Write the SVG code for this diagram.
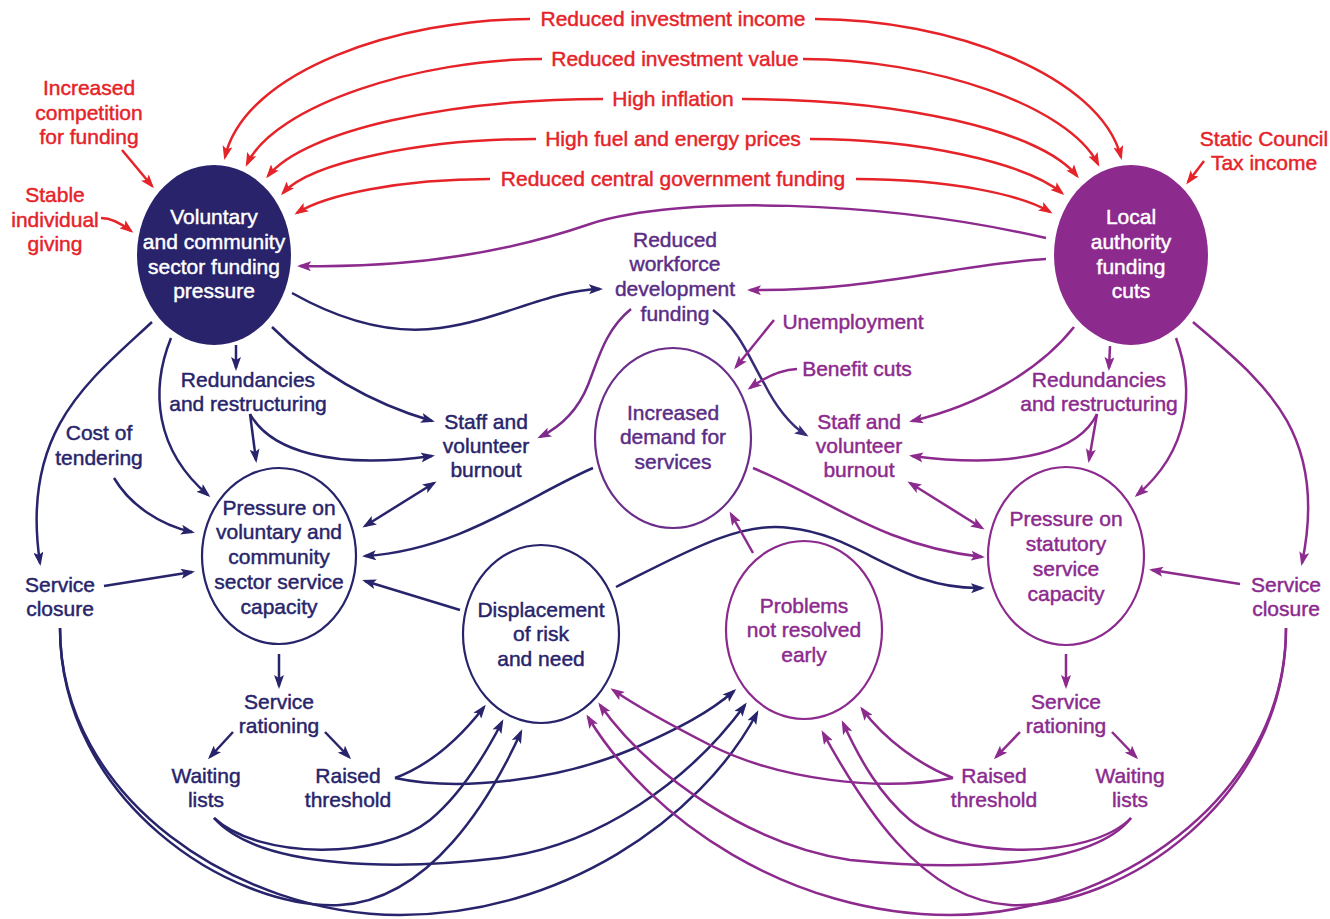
<svg xmlns="http://www.w3.org/2000/svg" width="1330" height="919" viewBox="0 0 1330 919">
<style>
text{font-family:"Liberation Sans",Arial,sans-serif;font-size:21px;text-anchor:middle;stroke-width:0.45px}
.r{fill:#e52329;stroke:#e52329}.n{fill:#28246b;stroke:#28246b}.p{fill:#8c2a8e;stroke:#8c2a8e}.m{fill:#5a2d86;stroke:#5a2d86}.w{fill:#fff;stroke:#fff}
.cr,.cn,.cp,.cm,.cd{fill:none;stroke-width:2.5}
.cr{stroke:#e52329;marker-end:url(#aR)}
.cn{stroke:#28246b;marker-end:url(#aN)}
.cp{stroke:#8c2a8e;marker-end:url(#aP)}
.cm{stroke:#7a2b8c;marker-end:url(#aM)}
.cd{stroke:#3b2a77;marker-end:url(#aD)}
.bn{marker-start:url(#aN)}.bp{marker-start:url(#aP)}
.on{fill:#fff;stroke:#28246b;stroke-width:2.2}
.op{fill:#fff;stroke:#8c2a8e;stroke-width:2.2}
.om{fill:#fff;stroke:#6a2d8a;stroke-width:2.2}
</style>
<defs>
<marker id="aR" viewBox="0 0 14 10" refX="11" refY="5" markerWidth="14" markerHeight="10" markerUnits="userSpaceOnUse" orient="auto-start-reverse"><path d="M0,0 L14,5 L0,10 L3,5 Z" fill="#e52329"/></marker>
<marker id="aN" viewBox="0 0 14 10" refX="11" refY="5" markerWidth="14" markerHeight="10" markerUnits="userSpaceOnUse" orient="auto-start-reverse"><path d="M0,0 L14,5 L0,10 L3,5 Z" fill="#28246b"/></marker>
<marker id="aP" viewBox="0 0 14 10" refX="11" refY="5" markerWidth="14" markerHeight="10" markerUnits="userSpaceOnUse" orient="auto-start-reverse"><path d="M0,0 L14,5 L0,10 L3,5 Z" fill="#8c2a8e"/></marker>
<marker id="aM" viewBox="0 0 14 10" refX="11" refY="5" markerWidth="14" markerHeight="10" markerUnits="userSpaceOnUse" orient="auto-start-reverse"><path d="M0,0 L14,5 L0,10 L3,5 Z" fill="#7a2b8c"/></marker>
<marker id="aD" viewBox="0 0 14 10" refX="11" refY="5" markerWidth="14" markerHeight="10" markerUnits="userSpaceOnUse" orient="auto-start-reverse"><path d="M0,0 L14,5 L0,10 L3,5 Z" fill="#3b2a77"/></marker>
</defs>
<rect width="1330" height="919" fill="#fff"/>

<g id="connectors">
<path class="cr" d="M530 19 C400 19 245 70 225 157"/>
<path class="cr" d="M542 59 C420 59 275 105 247 164"/>
<path class="cr" d="M603 99 C450 99 305 130 268 176"/>
<path class="cr" d="M536 139 C420 139 310 163 283 193"/>
<path class="cr" d="M490 179 C400 179 325 195 297 213"/>
<path class="cr" d="M815 19 C950 19 1100 75 1121 157"/>
<path class="cr" d="M803 59 C930 59 1068 105 1098 164"/>
<path class="cr" d="M742 99 C900 99 1040 130 1077 176"/>
<path class="cr" d="M810 139 C920 139 1025 163 1062 193"/>
<path class="cr" d="M856 179 C950 179 1022 195 1050 212"/>
<path class="cr" d="M122 150 L152 186"/>
<path class="cr" d="M101 218 C112 218 122 224 131 231"/>
<path class="cr" d="M1204 161 L1188 182"/>
<path class="cp" d="M1046 238 C880 200 680 195 590 224 C500 255 400 268 300 266"/>
<path class="cp" d="M1046 259 C950 265 870 292 750 290"/>
<path class="cn" d="M292 293 C340 320 390 335 440 328 C500 320 550 290 600 289"/>
<path class="cm" d="M631 309 C605 330 598 360 588 385 C578 410 560 427 540 437"/>
<path class="cd" d="M713 310 C740 330 750 360 765 385 C775 405 790 425 806 435"/>
<path class="cn" d="M272 327 C310 365 360 400 432 421"/>
<path class="cn" d="M236 345 L236 368"/>
<path class="cn" d="M250 414 L256 460"/>
<path class="cn" d="M250 414 C270 450 330 470 432 456"/>
<path class="cn" d="M171 338 C150 390 155 450 208 495"/>
<path class="cn" d="M152 322 C90 380 20 430 40 563"/>
<path class="cn" d="M114 478 C130 505 160 525 192 532"/>
<path class="cn" d="M104 586 L192 572"/>
<path class="cn bn" d="M365 526 L434 483"/>
<path class="cn" d="M593 468 C530 495 460 550 365 556"/>
<path class="cn" d="M460 610 L365 581"/>
<path class="cn" d="M616 587 C680 555 740 520 790 528 C860 535 900 590 982 588"/>
<path class="cp" d="M753 553 L731 514"/>
<path class="cp" d="M774 320 L736 367"/>
<path class="cp" d="M797 369 C780 370 765 377 750 388"/>
<path class="cp" d="M1074 327 C1040 370 980 405 912 421"/>
<path class="cp" d="M1110 346 L1109 368"/>
<path class="cp" d="M1097 414 L1089 460"/>
<path class="cp" d="M1097 414 C1080 450 1020 470 912 456"/>
<path class="cp" d="M1176 338 C1195 390 1190 450 1137 495"/>
<path class="cp" d="M1193 322 C1260 380 1330 430 1302 563"/>
<path class="cp" d="M1240 584 L1152 570"/>
<path class="cp bp" d="M910 483 L982 528"/>
<path class="cp" d="M753 468 C830 500 880 545 982 557"/>
<path class="cn" d="M279 654 L279 686"/>
<path class="cn" d="M233 732 L210 757"/>
<path class="cn" d="M325 732 L349 757"/>
<path class="cp" d="M1066 654 L1066 686"/>
<path class="cp" d="M1020 732 L996 757"/>
<path class="cp" d="M1112 732 L1136 757"/>
<path class="cn" d="M395 778 C430 765 460 738 484 707"/>
<path class="cn" d="M395 778 C460 792 560 780 630 750 C680 728 710 712 734 691"/>
<path class="cn" d="M214 818 C260 860 380 860 430 820 C460 795 485 755 502 722"/>
<path class="cn" d="M214 818 C260 870 400 870 500 858 C600 845 690 780 745 705"/>
<path class="cn" d="M60 628 C60 800 230 910 340 905 C430 900 490 800 521 732"/>
<path class="cn" d="M60 628 C60 800 240 915 400 915 C560 915 700 820 757 713"/>
<path class="cp" d="M953 778 C920 765 885 740 862 709"/>
<path class="cp" d="M953 778 C880 792 780 780 710 745 C665 722 635 705 613 690"/>
<path class="cp" d="M1131 818 C1090 860 960 860 910 820 C880 795 860 760 843 723"/>
<path class="cp" d="M1131 818 C1090 870 950 870 850 860 C750 845 650 775 600 705"/>
<path class="cp" d="M1286 628 C1286 800 1120 910 1010 905 C920 900 860 800 823 733"/>
<path class="cp" d="M1286 628 C1286 800 1110 915 950 915 C790 915 650 820 588 717"/>
</g>

<g id="red-investment-income"><text class="r" x="673" y="26">Reduced investment income</text></g>
<g id="red-investment-value"><text class="r" x="675" y="66">Reduced investment value</text></g>
<g id="red-inflation"><text class="r" x="673" y="106">High inflation</text></g>
<g id="red-fuel"><text class="r" x="673" y="146">High fuel and energy prices</text></g>
<g id="red-central"><text class="r" x="673" y="186">Reduced central government funding</text></g>
<g id="red-competition"><text class="r" x="89" y="95">Increased</text><text class="r" x="89" y="120">competition</text><text class="r" x="89" y="144">for funding</text></g>
<g id="red-giving"><text class="r" x="55" y="202">Stable</text><text class="r" x="55" y="227">individual</text><text class="r" x="55" y="251">giving</text></g>
<g id="red-council-tax"><text class="r" x="1264" y="146">Static Council</text><text class="r" x="1264" y="170">Tax income</text></g>

<g id="vcs-funding-pressure"><ellipse cx="214" cy="255" rx="77" ry="90" fill="#28236b"/>
<text class="w" x="214" y="224">Voluntary</text><text class="w" x="214" y="249">and community</text><text class="w" x="214" y="274">sector funding</text><text class="w" x="214" y="298">pressure</text></g>
<g id="la-funding-cuts"><ellipse cx="1131" cy="255" rx="77" ry="90" fill="#8c2a8e"/>
<text class="w" x="1131" y="224">Local</text><text class="w" x="1131" y="249">authority</text><text class="w" x="1131" y="274">funding</text><text class="w" x="1131" y="298">cuts</text></g>

<g id="workforce-funding"><text class="m" x="675" y="247">Reduced</text><text class="m" x="675" y="271">workforce</text><text class="m" x="675" y="296">development</text><text class="m" x="675" y="321">funding</text></g>
<g id="unemployment"><text class="p" x="853" y="329">Unemployment</text></g>
<g id="benefit-cuts"><text class="p" x="857" y="376">Benefit cuts</text></g>

<g id="redundancies-left"><text class="n" x="248" y="387">Redundancies</text><text class="n" x="248" y="411">and restructuring</text></g>
<g id="redundancies-right"><text class="p" x="1099" y="387">Redundancies</text><text class="p" x="1099" y="411">and restructuring</text></g>
<g id="burnout-left"><text class="n" x="486" y="429">Staff and</text><text class="n" x="486" y="453">volunteer</text><text class="n" x="486" y="477">burnout</text></g>
<g id="burnout-right"><text class="p" x="859" y="429">Staff and</text><text class="p" x="859" y="453">volunteer</text><text class="p" x="859" y="477">burnout</text></g>
<g id="cost-tendering"><text class="n" x="99" y="440">Cost of</text><text class="n" x="99" y="465">tendering</text></g>

<g id="increased-demand"><ellipse class="om" cx="673" cy="438" rx="78" ry="90"/>
<text class="m" x="673" y="420">Increased</text><text class="m" x="673" y="444">demand for</text><text class="m" x="673" y="469">services</text></g>

<g id="pressure-vcs"><ellipse class="on" cx="279" cy="556" rx="77" ry="88"/>
<text class="n" x="279" y="515">Pressure on</text><text class="n" x="279" y="539">voluntary and</text><text class="n" x="279" y="564">community</text><text class="n" x="279" y="589">sector service</text><text class="n" x="279" y="614">capacity</text></g>
<g id="pressure-statutory"><ellipse class="op" cx="1066" cy="556" rx="78" ry="89"/>
<text class="p" x="1066" y="526">Pressure on</text><text class="p" x="1066" y="551">statutory</text><text class="p" x="1066" y="576">service</text><text class="p" x="1066" y="601">capacity</text></g>

<g id="service-closure-left"><text class="n" x="60" y="592">Service</text><text class="n" x="60" y="616">closure</text></g>
<g id="service-closure-right"><text class="p" x="1286" y="592">Service</text><text class="p" x="1286" y="616">closure</text></g>

<g id="displacement"><ellipse class="on" cx="541" cy="634" rx="78" ry="89"/>
<text class="n" x="541" y="617">Displacement</text><text class="n" x="541" y="641">of risk</text><text class="n" x="541" y="666">and need</text></g>
<g id="problems-early"><ellipse class="op" cx="804" cy="630" rx="78" ry="89"/>
<text class="p" x="804" y="613">Problems</text><text class="p" x="804" y="637">not resolved</text><text class="p" x="804" y="662">early</text></g>

<g id="rationing-left"><text class="n" x="279" y="709">Service</text><text class="n" x="279" y="733">rationing</text></g>
<g id="rationing-right"><text class="p" x="1066" y="709">Service</text><text class="p" x="1066" y="733">rationing</text></g>
<g id="waiting-left"><text class="n" x="206" y="783">Waiting</text><text class="n" x="206" y="807">lists</text></g>
<g id="threshold-left"><text class="n" x="348" y="783">Raised</text><text class="n" x="348" y="807">threshold</text></g>
<g id="threshold-right"><text class="p" x="994" y="783">Raised</text><text class="p" x="994" y="807">threshold</text></g>
<g id="waiting-right"><text class="p" x="1130" y="783">Waiting</text><text class="p" x="1130" y="807">lists</text></g>
</svg>
